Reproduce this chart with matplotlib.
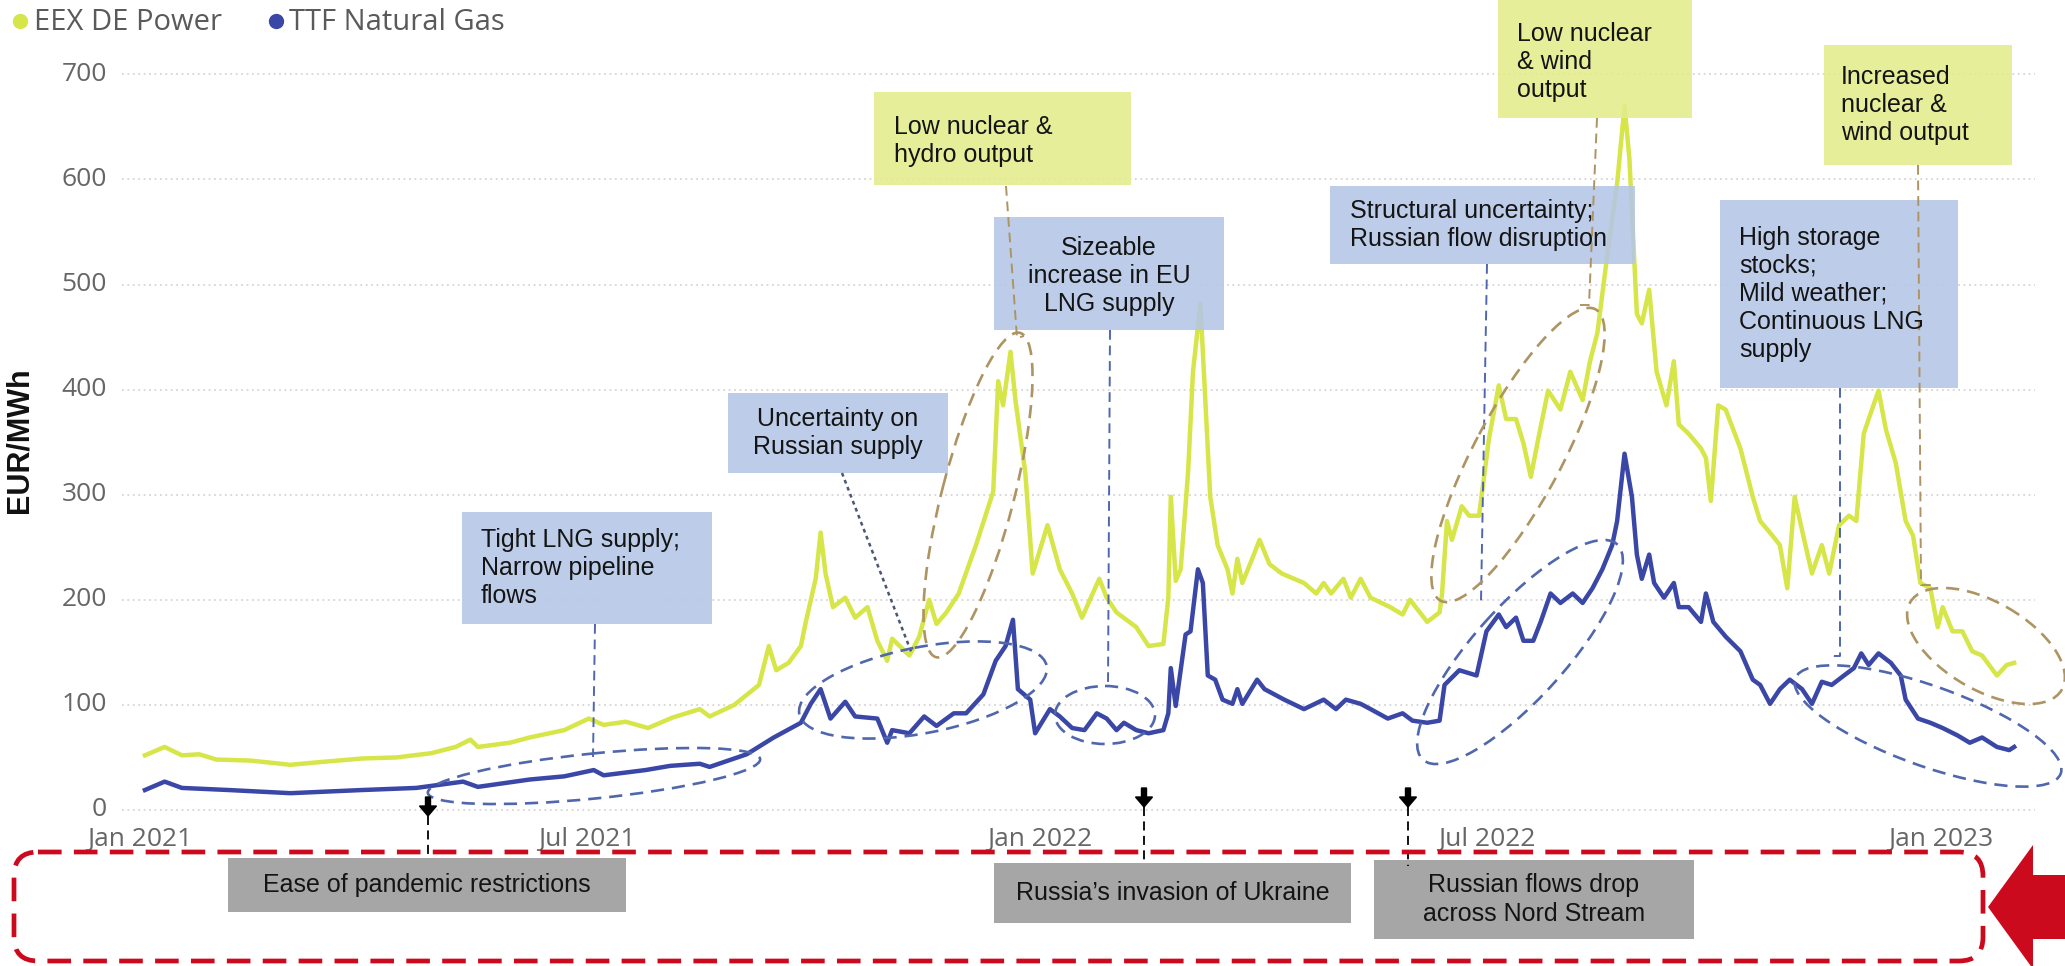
import matplotlib
matplotlib.use("Agg")
import matplotlib.pyplot as plt
import matplotlib.transforms as mtransforms
from matplotlib.patches import Rectangle, Ellipse, FancyBboxPatch, Polygon, FancyArrow
from matplotlib import font_manager
import pandas as pd

start = pd.Timestamp("2021-01-01")

# EEX DE Power (days after 1 Jan 2021, EUR/MWh)
power_day = [2, 10, 17, 24, 31, 45, 61, 75, 90, 104, 118, 128, 134, 137, 150, 158, 172, 182, 188, 197,
             206, 216, 227, 231, 241, 251, 255, 258, 263, 268, 270, 274, 276, 278, 281, 286, 290, 295, 299, 303,
             305, 312, 316, 320, 323, 327, 332, 339, 346, 348, 350, 353, 355, 359, 362, 368, 373, 378, 382, 389,
             392, 396, 404, 409, 415, 417, 418, 420, 422, 425, 427, 430, 432, 434, 437, 441, 443, 445, 447, 451,
             454, 458, 463, 472, 477, 480, 483, 488, 491, 495, 499, 507, 512, 515, 519, 522, 527, 528, 530, 532,
             536, 539, 543, 547, 551, 554, 558, 561, 564, 567, 571, 576, 580, 585, 588, 591, 595, 599, 602, 604,
             607, 609, 612, 615, 619, 622, 624, 628, 633, 635, 637, 640, 643, 649, 654, 657, 662, 665, 668, 671,
             674, 678, 682, 685, 689, 693, 696, 699, 701, 705, 708, 712, 716, 719, 722, 726, 729, 731, 735, 739,
             743, 747, 753, 757, 760]
power_eur = [52, 60, 52, 53, 48, 47, 43, 46, 49, 50, 54, 60, 67, 60, 64, 69, 76, 87, 81, 84,
             78, 88, 96, 89, 100, 119, 156, 133, 140, 156, 179, 220, 264, 225, 193, 202, 183, 193, 161, 142,
             163, 147, 165, 200, 177, 188, 206, 252, 303, 408, 385, 436, 390, 321, 225, 271, 229, 206, 183, 220,
             202, 188, 174, 156, 158, 202, 298, 218, 229, 321, 417, 482, 390, 298, 252, 229, 206, 239, 216, 239,
             257, 234, 225, 216, 206, 216, 206, 220, 202, 220, 202, 193, 186, 200, 188, 179, 188, 206, 275, 257,
             289, 280, 280, 353, 404, 372, 372, 349, 317, 353, 399, 381, 417, 390, 427, 454, 528, 596, 670, 619,
             472, 463, 495, 417, 385, 427, 367, 358, 344, 335, 294, 385, 381, 344, 298, 275, 261, 252, 211, 298,
             266, 225, 252, 225, 271, 280, 275, 358, 372, 399, 362, 330, 275, 261, 216, 211, 174, 193, 170, 170,
             151, 147, 128, 138, 140]

# TTF Natural Gas
gas_day = [2, 10, 17, 36, 61, 90, 112, 131, 137, 158, 172, 184, 188, 205, 215, 227, 231, 246, 257, 268,
           272, 276, 280, 286, 290, 299, 303, 305, 312, 318, 323, 330, 335, 342, 347, 351, 354, 356, 361, 363,
           369, 373, 378, 383, 388, 392, 396, 399, 404, 409, 415, 417, 418, 420, 424, 426, 429, 431, 433, 436,
           439, 443, 445, 447, 453, 456, 464, 472, 480, 485, 489, 495, 499, 506, 512, 516, 522, 527, 529, 535,
           542, 546, 551, 554, 558, 561, 565, 568, 572, 576, 581, 585, 589, 593, 597, 599, 602, 605, 607, 609,
           612, 614, 618, 622, 624, 628, 633, 635, 638, 643, 649, 654, 657, 661, 665, 669, 674, 678, 682, 686,
           691, 695, 698, 701, 705, 710, 714, 716, 721, 726, 731, 737, 742, 747, 753, 758, 760]
gas_eur = [19, 27, 21, 19, 16, 19, 21, 27, 22, 29, 32, 38, 33, 38, 42, 44, 41, 53, 69, 83,
           101, 115, 87, 103, 89, 87, 64, 76, 73, 89, 80, 92, 92, 110, 142, 156, 181, 115, 105, 73,
           96, 89, 78, 76, 92, 87, 76, 83, 76, 73, 76, 92, 135, 99, 167, 170, 229, 216, 128, 124,
           105, 101, 115, 101, 124, 115, 105, 96, 105, 96, 105, 101, 96, 87, 92, 85, 83, 85, 119, 133,
           128, 170, 186, 174, 183, 161, 161, 179, 206, 197, 206, 197, 211, 229, 252, 275, 339, 298, 243, 220,
           243, 216, 202, 216, 193, 193, 179, 206, 179, 165, 151, 124, 119, 101, 115, 124, 115, 101, 122, 119,
           128, 135, 149, 138, 149, 140, 128, 105, 87, 83, 78, 71, 64, 69, 60, 57, 60]

y_ticks = [0, 100, 200, 300, 400, 500, 600, 700]
x_tick_dates = ["2021-01-01", "2021-07-01", "2022-01-01", "2022-07-01", "2023-01-01"]
x_tick_labels = ["Jan 2021", "Jul 2021", "Jan 2022", "Jul 2022", "Jan 2023"]

POWER = "#d6e548"
GAS = "#3a47a6"
BLUE_BOX = "#b4c6e7"
YELLOW_BOX = "#e4ec8c"
GREY_BOX = "#a6a6a6"
BLUE_DASH = "#5067ad"
BROWN_DASH = "#ad9462"
RED = "#cc0a1e"

avail = {f.name for f in font_manager.fontManager.ttflist}
if "Liberation Sans Narrow" in avail:
    narrow, box_fs = "Liberation Sans Narrow", 19
else:
    narrow, box_fs = "Liberation Sans", 18

W, H = 2065, 966
fig = plt.figure(figsize=(W / 100, H / 100), dpi=100)
ax = fig.add_axes([0, 0, 1, 1])
ax.axis("off")

# pixel transform (origin top-left) for the annotation layer
pix = mtransforms.Affine2D().scale(1, -1).translate(0, H)

# where the data axes sit in the picture
x0_px, px_day = 140, 2.466
y0_px, px_eur = 810, 1.051

def day(d):
    return start + pd.Timedelta(days=d)

power_x = [day(d) for d in power_day]
gas_x = [day(d) for d in gas_day]

ax.plot(power_x, power_eur, color=POWER, lw=3.2, solid_joinstyle="round", zorder=3)
ax.plot(gas_x, gas_eur, color=GAS, lw=3.2, solid_joinstyle="round", zorder=3)

ax.set_xlim(day(-x0_px / px_day), day((W - x0_px) / px_day))
ax.set_ylim(-(H - y0_px) / px_eur, y0_px / px_eur)

ax.hlines(y_ticks, day(-7.3), day(768.5), colors="#d6d6d6", linestyles=(0, (1, 2)), lw=1.3, zorder=1)
for v in y_ticks:
    ax.text(day(-13.4), v, str(v), ha="right", va="center", fontsize=19, color="#666666", family="Open Sans")
for d, lab in zip(x_tick_dates, x_tick_labels):
    ax.text(pd.Timestamp(d), -28, lab, ha="center", va="center", fontsize=19, color="#666666", family="Open Sans")

ax.text(20, 440, "EUR/MWh", rotation=90, ha="center", va="center", fontsize=22, fontweight="bold",
        family="Liberation Sans", color="#111111", transform=pix)

# legend
ax.plot([20], [21], "o", ms=10, color=POWER, transform=pix, clip_on=False)
ax.text(34, 22, "EEX DE Power", ha="left", va="center", fontsize=21, color="#5a5a5a", family="Open Sans", transform=pix)
ax.plot([276], [21], "o", ms=10, color=GAS, transform=pix, clip_on=False)
ax.text(289, 22, "TTF Natural Gas", ha="left", va="center", fontsize=21, color="#5a5a5a", family="Open Sans", transform=pix)


def note(x0, y0, x1, y1, fc, text, ha="left", tx=None, ty=None, fs=None, alpha=0.88):
    ax.add_patch(Rectangle((x0, y0), x1 - x0, y1 - y0, fc=fc, ec="none", alpha=alpha, transform=pix, zorder=4))
    if tx is None:
        tx = (x0 + x1) / 2
    if ty is None:
        ty = (y0 + y1) / 2
    ax.text(tx, ty, text, ha=ha, va="center", multialignment=ha, fontsize=fs or box_fs, color="#141414",
            family=narrow, linespacing=1.22, transform=pix, zorder=6)


def leader(xs, ys, color, ls=(0, (5, 3)), lw=1.4):
    ax.plot(xs, ys, color=color, ls=ls, lw=lw, transform=pix, zorder=5, clip_on=False)


def ring(cx, cy, w, h, angle, color):
    ax.add_patch(Ellipse((cx, cy), w, h, angle=-angle, fill=False, ec=color, lw=1.9, ls=(0, (5, 3)),
                         transform=pix, zorder=5))


# annotation boxes
note(462, 512, 712, 624, BLUE_BOX, "Tight LNG supply;\nNarrow pipeline\nflows", tx=481)
note(728, 393, 948, 473, BLUE_BOX, "Uncertainty on\nRussian supply", ha="center")
note(874, 92, 1131, 185, YELLOW_BOX, "Low nuclear &\nhydro output", tx=894, ty=141)
note(994, 217, 1224, 330, BLUE_BOX, "Sizeable\nincrease in EU\nLNG supply", ha="center", ty=276)
note(1330, 186, 1635, 264, BLUE_BOX, "Structural uncertainty;\nRussian flow disruption", tx=1350)
note(1498, 0, 1692, 118, YELLOW_BOX, "Low nuclear\n& wind\noutput", tx=1517, ty=62)
note(1824, 45, 2012, 165, YELLOW_BOX, "Increased\nnuclear &\nwind output", tx=1841)
note(1720, 200, 1958, 388, BLUE_BOX, "High storage\nstocks;\nMild weather;\nContinuous LNG\nsupply", tx=1739)

# leaders and rings
leader([595, 593], [624, 757], BLUE_DASH)
ring(594, 776, 334, 45, 5.8, BLUE_DASH)

leader([842, 912], [473, 654], "#4b5670", ls=(0, (1.5, 1.5)), lw=1.8)
ring(923, 690, 252, 86, 11, BLUE_DASH)

leader([1006, 1017, 1024], [186, 338, 336], BROWN_DASH)
ring(978, 495, 335, 72, 75.5, BROWN_DASH)

leader([1110, 1108], [330, 687], BLUE_DASH)
ring(1105, 715, 100, 58, 0, BLUE_DASH)

leader([1487, 1481], [264, 601], BLUE_DASH)
ring(1520, 652, 290, 92, 48, BLUE_DASH)
ring(1518, 455, 330, 88, 62, BROWN_DASH)

leader([1597, 1589, 1580], [118, 305, 305], BROWN_DASH)

leader([1918, 1921, 1935], [165, 585, 585], BROWN_DASH)
ring(1986, 646, 175, 88, -30, BROWN_DASH)

leader([1840, 1840, 1830], [388, 656, 656], BLUE_DASH)
ring(1928, 726, 282, 80, -19.7, BLUE_DASH)

# events below the axis
note(228, 858, 626, 912, GREY_BOX, "Ease of pandemic restrictions", ha="center", alpha=1)
note(994, 863, 1351, 923, GREY_BOX, "Russia\u2019s invasion of Ukraine", ha="center", alpha=1)
note(1374, 860, 1694, 939, GREY_BOX, "Russian flows drop\nacross Nord Stream", ha="center", alpha=1)

for x, top, bottom in [(428, 797, 858), (1144, 788, 863), (1408, 788, 866)]:
    ax.add_patch(FancyArrow(x, top, 0, 19, width=5, head_width=17, head_length=10, length_includes_head=True,
                            color="black", transform=pix, zorder=6))
    leader([x, x], [top + 19, bottom], "black", ls=(0, (5, 3)), lw=1.3)

ax.add_patch(FancyBboxPatch((14, 852), 1969, 109, boxstyle="round,pad=0,rounding_size=24", fill=False,
                            ec=RED, lw=3.4, ls=(0, (5, 2.6)), transform=pix, zorder=6))
ax.add_patch(Polygon([(1988, 907), (2033, 845), (2033, 875), (2065, 875), (2065, 939), (2033, 939), (2033, 969)],
                     closed=True, fc=RED, ec="none", transform=pix, zorder=6))

fig.savefig("out.png", dpi=100)
